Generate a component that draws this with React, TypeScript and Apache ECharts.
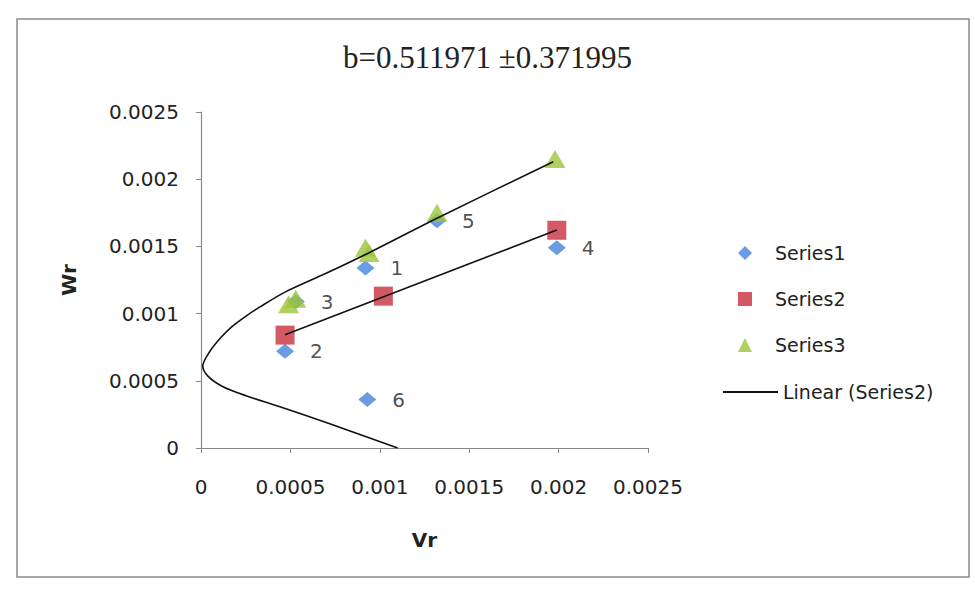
import React, { useEffect, useRef } from "react";
import * as echarts from "echarts";

const titleText = "b=0.511971 ±0.371995";
const xTicks = [0, 0.0005, 0.001, 0.0015, 0.002, 0.0025];

const series1X = [0.00092, 0.00047, 0.00053, 0.00199, 0.00132, 0.00093];
const series1Y = [0.00134, 0.00072, 0.00109, 0.00149, 0.00169, 0.00036];
const series1Labels = ["1", "2", "3", "4", "5", "6"];

const series2X = [0.00047, 0.00102, 0.00199];
const series2Y = [0.00084, 0.00113, 0.00162];

const series3X = [0.00049, 0.00053, 0.00092, 0.00094, 0.00132, 0.00198];
const series3Y = [0.00107, 0.00111, 0.00149, 0.00145, 0.00175, 0.00215];

const curveX = [0.0011, 0.00072, 0.000437, 0.000252, 0.000123, 0.00004, 0.00001, 0.00005, 0.00011, 0.00017, 0.00025, 0.00033, 0.00047, 0.0007, 0.00092, 0.00132, 0.00197];
const curveY = [0.0, 0.00018, 0.000309, 0.000389, 0.000456, 0.000533, 0.00061, 0.00072, 0.00082, 0.0009, 0.00098, 0.00105, 0.00116, 0.0013, 0.00144, 0.00171, 0.00213];

const COLORS = { s1: "#4383d8", s2: "#c8303f", s3: "#9cc63a" };
const FONT = "DejaVu Sans";

function linearFit(xs: number[], ys: number[]) {
  const n = xs.length;
  const mx = xs.reduce((a, b) => a + b, 0) / n;
  const my = ys.reduce((a, b) => a + b, 0) / n;
  let sxy = 0;
  let sxx = 0;
  for (let i = 0; i < n; i++) {
    sxy += (xs[i] - mx) * (ys[i] - my);
    sxx += (xs[i] - mx) * (xs[i] - mx);
  }
  const slope = sxy / sxx;
  const icpt = my - slope * mx;
  const x0 = Math.min(...xs);
  const x1 = Math.max(...xs);
  return [
    [x0, icpt + slope * x0],
    [x1, icpt + slope * x1],
  ];
}

export default function App() {
  const ref = useRef<HTMLDivElement>(null);
  useEffect(() => {
    if (!ref.current) return;
    const chart = echarts.init(ref.current, null, { renderer: "svg" });
    const s1 = series1X.map((x, i) => ({ value: [x, series1Y[i]], label: { formatter: series1Labels[i] } }));
    const s2 = series2X.map((x, i) => [x, series2Y[i]]);
    const s3 = series3X.map((x, i) => [x, series3Y[i]]);
    const curve = curveX.map((x, i) => [x, curveY[i]]);
    const trend = linearFit(series2X, series2Y);

    chart.setOption({
      animation: false,
      backgroundColor: "#ffffff",
      title: {
        text: titleText,
        left: "center",
        top: 37,
        textStyle: { fontFamily: "Liberation Serif", fontSize: 31, fontWeight: "normal", color: "#222" },
      },
      graphic: [
        {
          type: "rect",
          shape: { x: 17, y: 19, width: 952, height: 558 },
          style: { fill: "none", stroke: "#8a8a8a", lineWidth: 1.5 },
          silent: true,
        },
      ],
      legend: [
        {
          data: ["Series1", "Series2", "Series3"],
          orient: "vertical",
          left: 733,
          top: 238,
          itemWidth: 14,
          itemHeight: 14,
          itemGap: 26,
          formatter: (name: string) => "{pad|}" + name,
          textStyle: {
            fontFamily: FONT,
            fontSize: 19,
            color: "#222",
            lineHeight: 20,
            rich: { pad: { width: 18, lineHeight: 20 } },
          },
        },
        {
          data: [{ name: "Linear (Series2)", icon: "rect" }],
          orient: "vertical",
          left: 718,
          top: 377,
          itemWidth: 55,
          itemHeight: 2,
          textStyle: { fontFamily: FONT, fontSize: 19, color: "#222", lineHeight: 20 },
        },
      ],
      grid: { left: 201, right: 327, top: 112, bottom: 146, containLabel: false },
      xAxis: {
        type: "value",
        min: xTicks[0],
        max: xTicks[xTicks.length - 1],
        interval: 0.0005,
        name: "Vr",
        nameLocation: "middle",
        nameGap: 82,
        nameTextStyle: { fontFamily: FONT, fontSize: 20, fontWeight: "bold", color: "#222" },
        axisLine: { lineStyle: { color: "#888", width: 1.2 } },
        axisTick: { show: true, inside: false, length: 5, lineStyle: { color: "#888" } },
        axisLabel: { margin: 29, fontFamily: FONT, fontSize: 20, color: "#222" },
        splitLine: { show: false },
      },
      yAxis: {
        type: "value",
        min: 0,
        max: 0.0025,
        interval: 0.0005,
        name: "Wr",
        nameLocation: "middle",
        nameGap: 122,
        nameRotate: 90,
        nameTextStyle: { fontFamily: FONT, fontSize: 20, fontWeight: "bold", color: "#222" },
        axisLine: { show: true, lineStyle: { color: "#888", width: 1.2 } },
        axisTick: { show: true, inside: false, length: 5, lineStyle: { color: "#888" } },
        axisLabel: { margin: 22, fontFamily: FONT, fontSize: 20, color: "#222" },
        splitLine: { show: false },
      },
      series: [
        {
          name: "Series1",
          type: "scatter",
          symbol: "diamond",
          symbolSize: [18, 15],
          itemStyle: { color: COLORS.s1 },
          data: s1,
          z: 2,
          label: {
            show: true,
            position: "right",
            distance: 16,
            fontFamily: FONT,
            fontSize: 20,
            color: "#222",
          },
        },
        {
          name: "Series2",
          type: "scatter",
          symbol: "rect",
          symbolSize: 19,
          itemStyle: { color: COLORS.s2 },
          data: s2,
          z: 3,
        },
        {
          name: "Series3",
          type: "scatter",
          symbol: "triangle",
          symbolSize: [21, 18],
          itemStyle: { color: COLORS.s3 },
          data: s3,
          z: 4,
        },
        {
          name: "Linear (Series2)",
          type: "line",
          symbol: "none",
          data: trend,
          lineStyle: { color: "#111", width: 1.6 },
          itemStyle: { color: "#111" },
          z: 5,
        },
        {
          name: "curve",
          type: "line",
          symbol: "none",
          smooth: 0.3,
          data: curve,
          lineStyle: { color: "#111", width: 1.6 },
          z: 5,
        },
      ],
    });
    return () => chart.dispose();
  }, []);
  return (
    <div
      ref={ref}
      style={{ position: "fixed", left: 0, top: 0, width: 975, height: 594, background: "#fff" }}
    />
  );
}
